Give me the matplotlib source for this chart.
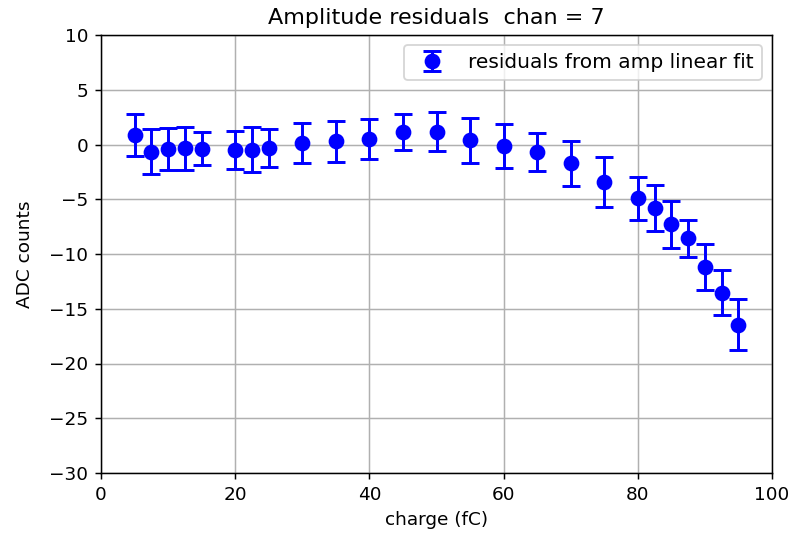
import matplotlib
matplotlib.use("Agg")
import matplotlib.pyplot as plt

charge = [5, 7.5, 10, 12.5, 15, 20, 22.5, 25, 30, 35, 40, 45, 50, 55, 60, 65, 70,
          75, 80, 82.5, 85, 87.5, 90, 92.5, 95]
resid = [0.87, -0.65, -0.44, -0.35, -0.38, -0.5, -0.47, -0.32, 0.14, 0.29, 0.5, 1.17,
         1.17, 0.38, -0.14, -0.66, -1.72, -3.45, -4.9, -5.83, -7.29, -8.57, -11.19,
         -13.53, -16.48]
err = [1.92, 2.04, 1.93, 1.98, 1.53, 1.7, 2.05, 1.78, 1.81, 1.9, 1.8, 1.64, 1.78,
       2.07, 2.0, 1.75, 2.05, 2.3, 1.95, 2.1, 2.13, 1.7, 2.1, 2.05, 2.33]

# saved from a small figure at high dpi, so fonts look big
fig = plt.figure(figsize=(6, 535/(800/6)), dpi=800/6)
ax = fig.add_axes([101/800, 1-473/535, (772-101)/800, (473-35)/535])

ax.errorbar(charge, resid, yerr=err, fmt='bo', markersize=7.5, elinewidth=1.6,
            capsize=5, capthick=1.6, label='residuals from amp linear fit')
ax.set_xlim(0, 100)
ax.set_ylim(-30, 10)
ax.grid(True)
ax.set_xlabel('charge (fC)')
ax.set_ylabel('ADC counts', labelpad=8)
ax.set_title('Amplitude residuals  chan = 7')
ax.legend(loc='upper right', fontsize=10.9)

fig.savefig('out.png', dpi=800/6)
